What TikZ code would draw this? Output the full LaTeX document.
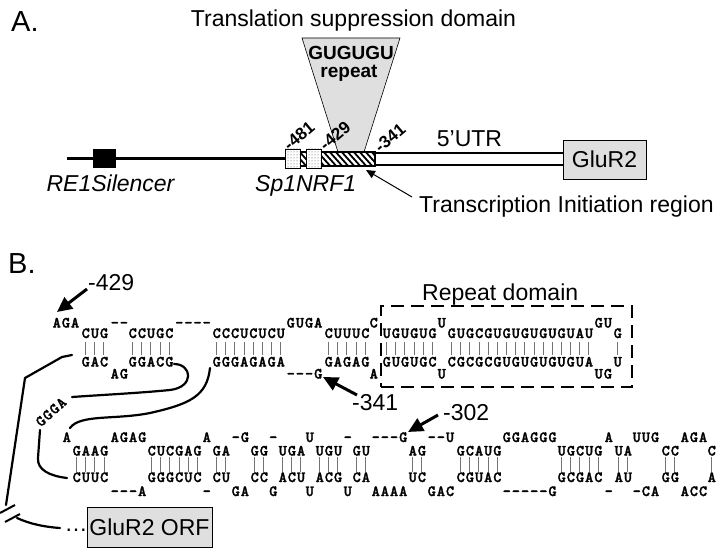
\documentclass[tikz,border=0pt]{standalone}
\usepackage{fontspec}
\setmainfont{Liberation Sans}
\newfontfamily\rnaff{lmmonolt10-bold.otf}[FakeBold=1.8]
\usetikzlibrary{arrows.meta,patterns}

\newlength\rnap \setlength\rnap{9.15pt}
\makeatletter
\def\rna#1{\rna@#1\@nil}
\def\rna@#1{\ifx#1\@nil\else\makebox[\rnap]{#1}\expandafter\rna@\fi}
\makeatother
\newcommand\rnafont{\rnaff\fontsize{15.5pt}{15.5pt}\selectfont}
\newcommand\labfont{\fontsize{23pt}{23pt}\selectfont}
\newcommand\gufont{\fontsize{19pt}{19pt}\selectfont\bfseries}
\newcommand\posfont{\fontsize{17pt}{17pt}\selectfont\bfseries}
\newcommand\bigfont{\fontsize{29pt}{29pt}\selectfont}
\newcommand\pairs[4]{\foreach \i in {1,...,#2}{\draw[pairline] ({#1+(\i-0.5)*9.15},#3) -- ({#1+(\i-0.5)*9.15},#4);}}

\tikzset{
  lab/.style={font=\labfont, inner sep=0pt},
  rs/.style={inner sep=0pt, anchor=base west, font=\rnafont},
  pairline/.style={draw=black!55, line width=0.8pt},
  curve/.style={line width=2.2pt, line cap=round, line join=round},
  bigarrow/.style={line width=3pt, -{Triangle[length=15pt,width=14pt]}},
  graybox/.style={draw, fill=gray!25, inner sep=0pt, line width=0.7pt},
  dotbox/.style={draw, line width=0.8pt, fill=white, postaction={pattern=dots, pattern color=black!70}, minimum width=15pt, minimum height=19pt, inner sep=0pt},
  poslab/.style={font=\posfont, rotate=40, inner sep=0pt},
}

\begin{document}
\begin{tikzpicture}[x=1pt, y=-1pt]
\useasboundingbox (0,0) rectangle (720,548);

% ================= Part A =================
\node[font=\bigfont, anchor=base west, inner sep=0] (A) at (11,32) {A.};
\node[lab, anchor=base] (tsd) at (353.5,27) {Translation suppression domain};

% repeat wedge
\filldraw[fill=gray!25, line width=0.6pt] (302,38) -- (400,38) -- (364,152) -- (338,152) -- cycle;
\node[font=\gufont, inner sep=0] (gugu) at (351,53) {GUGUGU};
\node[font=\gufont, inner sep=0] (rep) at (349,73) {repeat};

% genomic line
\draw[line width=2.5pt] (67,158.5) -- (286,158.5);
\node[fill=black, minimum width=23pt, minimum height=19pt, inner sep=0] (re1) at (104.5,158.5) {};

% hatched region
\begin{scope}
\clip (298,152) rectangle (375,166);
\fill[white] (298,152) rectangle (375,166);
\foreach \k in {0,...,14} \draw[line width=1.8pt] ({286+\k*6},150) -- ({286+\k*6+16},168);
\end{scope}
\draw[line width=1.3pt] (298,152) rectangle (375,166);

% UTR double line
\draw[line width=2.5pt] (375,153) -- (563,153);
\draw[line width=2.5pt] (375,165) -- (563,165);
\draw[line width=2pt] (375,152) -- (375,166);

\node[dotbox] (sp1) at (292.5,158.5) {};
\node[dotbox] (nrf1) at (313.5,158.5) {};

\node[graybox, minimum width=83pt, minimum height=39pt, font=\labfont] (glur2) at (604.5,159.5) {GluR2};
\node[lab, anchor=base] (utr) at (469.5,147) {5’UTR};

\node[poslab] (p481) at (299,136) {-481};
\node[poslab] (p429) at (335,136) {-429};
\node[poslab] (p341) at (390,138) {-341};

\node[lab, anchor=base, font=\labfont\itshape] (re1t) at (110.5,192) {RE1Silencer};
\node[lab, anchor=base west, font=\labfont\itshape] (spt) at (255,192) {Sp1NRF1};
\node[lab, anchor=base west] (tir) at (419,213) {Transcription Initiation region};
\coordinate (tirs) at (412,197);
\coordinate (tire) at (366,170);
\draw[line width=1pt, -{Triangle[length=9pt,width=8pt]}] (tirs) -- (tire);

% ================= Part B =================
\node[font=\bigfont, anchor=base west, inner sep=0] (B) at (8,273) {B.};

% upper helix, top strand
\node[rs] (u1) at (52,327.5) {\rna{AGA}};
\node[rs] (u2) at (81,338) {\rna{CUG}};
\node[rs] (u3) at (110,327.5) {\rna{--}};
\node[rs] (u4) at (128,338) {\rna{CCUGC}};
\node[rs] (u5) at (174.5,327.5) {\rna{----}};
\node[rs] (u6) at (212,338) {\rna{CCCUCUCU}};
\node[rs] (u7) at (286,327.5) {\rna{GUGA}};
\node[rs] (u8) at (324,338) {\rna{CUUUC}};
\node[rs] (u9) at (369,327.5) {\rna{C}};
\node[rs] (u10) at (382,338) {\rna{UGUGUG}};
\node[rs] (u11) at (437,327.5) {\rna{U}};
\node[rs] (u12) at (447,338) {\rna{GUGCGUGUGUGUGUAU}};
\node[rs] (u13) at (594,327.5) {\rna{GU}};
\node[rs] (u14) at (613,338) {\rna{G}};
% upper helix, bottom strand
\node[rs] (l1) at (81,366.5) {\rna{GAC}};
\node[rs] (l2) at (110,378.5) {\rna{AG}};
\node[rs] (l3) at (128,366.5) {\rna{GGACG}};
\node[rs] (l4) at (212,366.5) {\rna{GGGAGAGA}};
\node[rs] (l5) at (286,378.5) {\rna{---G}};
\node[rs] (l6) at (324,366.5) {\rna{GAGAG}};
\node[rs] (l7) at (369,378.5) {\rna{A}};
\node[rs] (l8) at (382,366.5) {\rna{GUGUGC}};
\node[rs] (l9) at (437,378.5) {\rna{U}};
\node[rs] (l10) at (447,366.5) {\rna{CGCGCGUGUGUGUGUA}};
\node[rs] (l11) at (594,378.5) {\rna{UG}};
\node[rs] (l12) at (613,366.5) {\rna{U}};
\pairs{81}{3}{342}{355}
\pairs{128}{5}{342}{355}
\pairs{212}{8}{342}{355}
\pairs{324}{5}{342}{355}
\pairs{382}{6}{342}{355}
\pairs{447}{16}{342}{355}
\pairs{613}{1}{342}{355}

% repeat domain box
\node[draw, line width=2pt, dash pattern=on 13pt off 7pt, minimum width=251pt, minimum height=81pt, inner sep=0] (rbox) at (506.5,346.5) {};
\node[lab, anchor=base west] (rdl) at (422,300) {Repeat domain};

% lower helix, top strand
\node[rs] (v1) at (62,442) {\rna{A}};
\node[rs] (v2) at (72,455.5) {\rna{GAAG}};
\node[rs] (v3) at (110,442) {\rna{AGAG}};
\node[rs] (v4) at (147,455.5) {\rna{CUCGAG}};
\node[rs] (v5) at (202,442) {\rna{A}};
\node[rs] (v6) at (212,455.5) {\rna{GA}};
\node[rs] (v7) at (231,442) {\rna{-G}};
\node[rs] (v8) at (250,455.5) {\rna{GG}};
\node[rs] (v9) at (268.5,442) {\rna{-}};
\node[rs] (v10) at (278,455.5) {\rna{UGA}};
\node[rs] (v11) at (305,442) {\rna{U}};
\node[rs] (v12) at (315,455.5) {\rna{UGU}};
\node[rs] (v13) at (343,442) {\rna{-}};
\node[rs] (v14) at (352,455.5) {\rna{GU}};
\node[rs] (v15) at (371,442) {\rna{---G}};
\node[rs] (v16) at (408,455.5) {\rna{AG}};
\node[rs] (v17) at (427,442) {\rna{--U}};
\node[rs] (v18) at (456,455.5) {\rna{GCAUG}};
\node[rs] (v19) at (502,442) {\rna{GGAGGG}};
\node[rs] (v20) at (557,455.5) {\rna{UGCUG}};
\node[rs] (v21) at (604,442) {\rna{A}};
\node[rs] (v22) at (614,455.5) {\rna{UA}};
\node[rs] (v23) at (632,442) {\rna{UUG}};
\node[rs] (v24) at (661,455.5) {\rna{CC}};
\node[rs] (v25) at (680,442) {\rna{AGA}};
\node[rs] (v26) at (707,455.5) {\rna{C}};
% lower helix, bottom strand
\node[rs] (w1) at (72,482) {\rna{CUUC}};
\node[rs] (w2) at (110,496) {\rna{---A}};
\node[rs] (w3) at (147,482) {\rna{GGGCUC}};
\node[rs] (w4) at (202,496) {\rna{-}};
\node[rs] (w5) at (212,482) {\rna{CU}};
\node[rs] (w6) at (231,496) {\rna{GA}};
\node[rs] (w7) at (250,482) {\rna{CC}};
\node[rs] (w8) at (268.5,496) {\rna{G}};
\node[rs] (w9) at (278,482) {\rna{ACU}};
\node[rs] (w10) at (305,496) {\rna{U}};
\node[rs] (w11) at (315,482) {\rna{ACG}};
\node[rs] (w12) at (343,496) {\rna{U}};
\node[rs] (w13) at (352,482) {\rna{CA}};
\node[rs] (w14) at (371,496) {\rna{AAAA}};
\node[rs] (w15) at (408,482) {\rna{UC}};
\node[rs] (w16) at (427,496) {\rna{GAC}};
\node[rs] (w17) at (456,482) {\rna{CGUAC}};
\node[rs] (w18) at (502,496) {\rna{-----G}};
\node[rs] (w19) at (557,482) {\rna{GCGAC}};
\node[rs] (w20) at (604,496) {\rna{-}};
\node[rs] (w21) at (614,482) {\rna{AU}};
\node[rs] (w22) at (632,496) {\rna{-CA}};
\node[rs] (w23) at (661,482) {\rna{GG}};
\node[rs] (w24) at (680,496) {\rna{ACC}};
\node[rs] (w25) at (707,482) {\rna{A}};
\pairs{72}{4}{457}{472}
\pairs{147}{6}{457}{472}
\pairs{212}{2}{457}{472}
\pairs{250}{2}{457}{472}
\pairs{278}{3}{457}{472}
\pairs{315}{3}{457}{472}
\pairs{352}{2}{457}{472}
\pairs{408}{2}{457}{472}
\pairs{456}{5}{457}{472}
\pairs{557}{5}{457}{472}
\pairs{614}{2}{457}{472}
\pairs{661}{2}{457}{472}
\pairs{707}{1}{457}{472}

% connecting strands
\draw[curve] (72,355) -- (62,357) -- (25,378) -- (6,505);
\draw[line width=2pt] (0,513) -- (15,505);
\draw[line width=2pt] (5,522) -- (20,514);
\draw[curve] (17,518) .. controls (30,524) and (45,527) .. (60,528);
\draw[curve] (174,364) .. controls (192,364) and (195,387) .. (170,390) .. controls (140,393) and (100,395) .. (72,397);
\draw[curve] (210,368) .. controls (207,396) and (190,404) .. (150,413) .. controls (115,420) and (80,414) .. (70,428);
\draw[curve] (40,430) -- (38,458) .. controls (37,470) and (50,476) .. (67,478);
\node[rs, anchor=center, rotate=42] (ggga) at (51,412) {\rna{GGGA}};

% position labels
\node[lab, anchor=base west] (m429) at (88,290) {-429};
\coordinate (m429t) at (57,312);
\draw[bigarrow] (87,289) -- (m429t);
\node[lab, anchor=base west] (m341) at (352,410) {-341};
\coordinate (m341t) at (323,377);
\draw[bigarrow] (357,395) -- (m341t);
\node[lab, anchor=base west] (m302) at (443,420) {-302};
\coordinate (m302t) at (408,432);
\draw[bigarrow] (438,415) -- (m302t);

% ORF box
\node[lab, anchor=base] (dots) at (76,531) {…};
\node[graybox, minimum width=125pt, minimum height=40pt, font=\labfont] (orf) at (149.5,527) {GluR2 ORF};
\end{tikzpicture}
\end{document}
